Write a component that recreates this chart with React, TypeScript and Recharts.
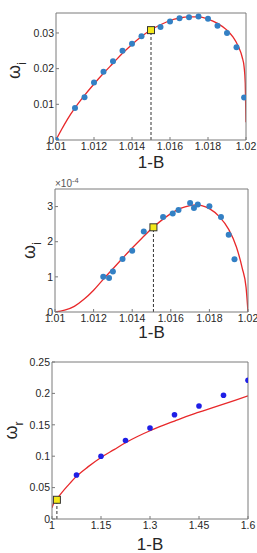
import React from 'react';
import {
  ComposedChart,
  Line,
  Scatter,
  XAxis,
  YAxis,
  ReferenceLine,
  Label,
} from 'recharts';

// --- growth rate, narrow window (fitted curve + simulation points)
const growthCurveX = [1.01, 1.0103, 1.0106, 1.011, 1.0115, 1.012, 1.0125, 1.013, 1.0135, 1.014, 1.0145, 1.015, 1.0155, 1.016, 1.0165, 1.017, 1.0175, 1.018, 1.0185, 1.019, 1.0193, 1.0196, 1.0198, 1.0199, 1.01996, 1.02];
const growthCurveY = [0, 0.003, 0.0058, 0.009, 0.0125, 0.0157, 0.0187, 0.0215, 0.0243, 0.0268, 0.029, 0.0309, 0.0323, 0.0335, 0.0342, 0.0345, 0.0345, 0.0339, 0.0327, 0.0308, 0.029, 0.0262, 0.0232, 0.0205, 0.016, 0.005];
const growthDotsX = [1.01, 1.011, 1.0115, 1.012, 1.0125, 1.013, 1.0135, 1.014, 1.0145, 1.0155, 1.016, 1.0165, 1.017, 1.0175, 1.018, 1.0185, 1.019, 1.0195, 1.0199];
const growthDotsY = [0, 0.009, 0.012, 0.0161, 0.0191, 0.0221, 0.025, 0.027, 0.0291, 0.0317, 0.0332, 0.0341, 0.0344, 0.0346, 0.034, 0.032, 0.03, 0.026, 0.0119];
const growthMark = { x: 1.015, y: 0.0308 };
const growthXTicks = [1.01, 1.012, 1.014, 1.016, 1.018, 1.02];
const growthYTicks = [0, 0.01, 0.02, 0.03];

// --- growth rate, second case (values in units of 1e-4)
const smallCurveX = [1.01, 1.0105, 1.011, 1.0115, 1.012, 1.0125, 1.013, 1.0135, 1.014, 1.0145, 1.015, 1.0155, 1.016, 1.0165, 1.017, 1.0173, 1.0176, 1.018, 1.0185, 1.019, 1.0194, 1.0197, 1.0199, 1.02];
const smallCurveY = [0, 0.05, 0.16, 0.36, 0.62, 0.93, 1.23, 1.53, 1.82, 2.1, 2.37, 2.6, 2.8, 2.95, 3.03, 3.05, 3.03, 2.94, 2.72, 2.35, 1.85, 1.25, 0.7, 0];
const smallDotsX = [1.0125, 1.0128, 1.013, 1.0135, 1.014, 1.0146, 1.0156, 1.0161, 1.0164, 1.017, 1.0172, 1.0174, 1.018, 1.0186, 1.019, 1.0193];
const smallDotsY = [1.0, 0.97, 1.15, 1.51, 1.74, 2.29, 2.7, 2.8, 2.9, 3.1, 2.96, 3.06, 3.01, 2.7, 2.2, 1.5];
const smallMark = { x: 1.0151, y: 2.41 };
const smallXTicks = [1.01, 1.012, 1.014, 1.016, 1.018, 1.02];
const smallYTicks = [0, 1, 2, 3];

// --- real frequency over the wide range
const freqCurveX = [1.0, 1.005, 1.015, 1.03, 1.05, 1.075, 1.11, 1.15, 1.19, 1.225, 1.26, 1.3, 1.34, 1.375, 1.41, 1.45, 1.49, 1.525, 1.56, 1.6];
const freqCurveY = [0.018, 0.025, 0.032, 0.042, 0.054, 0.068, 0.083, 0.098, 0.1105, 0.1215, 0.131, 0.1405, 0.149, 0.156, 0.163, 0.17, 0.177, 0.183, 0.189, 0.196];
const freqDotsX = [1.075, 1.15, 1.225, 1.3, 1.375, 1.45, 1.525, 1.6];
const freqDotsY = [0.07, 0.1, 0.125, 0.145, 0.166, 0.18, 0.197, 0.221];
const freqMark = { x: 1.015, y: 0.0306 };
const freqXTicks = [1, 1.15, 1.3, 1.45, 1.6];
const freqYTicks = [0, 0.05, 0.1, 0.15, 0.2, 0.25];

type Pt = { x: number; y: number };
const zip = (xs: number[], ys: number[]): Pt[] => xs.map((x, i) => ({ x, y: ys[i] }));

const FONT = '"Liberation Sans", Arial, sans-serif';
const AXIS = '#7a7a7a';
const TEXT = '#262626';
const RED = '#e8282a';

const tickStyle = { fontSize: 10.5, fill: TEXT, fontFamily: FONT };

const YellowSquare = (p: any) => (
  <rect x={p.cx - 3.5} y={p.cy - 3.5} width={7} height={7} fill="#f4e81a" stroke="#333" strokeWidth={1} />
);

const dotShape = (color: string, r: number) => (p: any) => (
  <circle cx={p.cx} cy={p.cy} r={r} fill={color} />
);

interface PanelProps {
  top: number;
  height: number;
  axisTop: number;
  axisBottom: number;
  axisLeft: number;
  axisRight: number;
  xDomain: [number, number];
  xTicks: number[];
  yDomain: [number, number];
  yTicks: number[];
  curve: Pt[];
  dots: Pt[];
  dotColor: string;
  dotR: number;
  mark: Pt;
  sub: string;
  labelX: number;
  labelShift: number;
  titleBaseline: number;
  exponent?: string;
}

const Panel: React.FC<PanelProps> = (p) => {
  const yTitle = ({ viewBox }: any) => {
    const cx = viewBox.x + p.labelX;
    const cy = viewBox.y + viewBox.height / 2 + p.labelShift;
    return (
      <text
        x={cx}
        y={cy}
        transform={`rotate(-90 ${cx} ${cy})`}
        textAnchor="middle"
        fill={TEXT}
        fontFamily={FONT}
        fontSize={18}
      >
        <tspan>ω</tspan>
        <tspan fontSize={12} dy={6}>{p.sub}</tspan>
      </text>
    );
  };

  const xTitle = ({ viewBox }: any) => (
    <text
      x={viewBox.x + viewBox.width / 2}
      y={viewBox.y + p.titleBaseline}
      textAnchor="middle"
      fill={TEXT}
      fontFamily={FONT}
      fontSize={17}
    >
      1-B
    </text>
  );

  const expTitle = ({ viewBox }: any) => (
    <text x={viewBox.x} y={viewBox.y + viewBox.height - 2} fill="#555" fontFamily={FONT} fontSize={10}>
      <tspan>×10</tspan>
      <tspan fontSize={7.5} dy={-4}>{p.exponent}</tspan>
    </text>
  );

  return (
    <div style={{ position: 'absolute', left: 0, top: p.top, width: 257, height: p.height }}>
      <ComposedChart width={257} height={p.height} margin={{ top: 0, right: 0, bottom: 0, left: 0 }}>
        <XAxis
          xAxisId={0}
          type="number"
          dataKey="x"
          domain={p.xDomain}
          ticks={p.xTicks}
          interval={0}
          allowDataOverflow
          height={p.axisBottom}
          stroke={AXIS}
          tickSize={-3}
          tickMargin={6}
          tick={tickStyle}
        >
          <Label content={xTitle} />
        </XAxis>
        <XAxis
          xAxisId="top"
          orientation="top"
          type="number"
          dataKey="x"
          domain={p.xDomain}
          ticks={p.xTicks}
          interval={0}
          allowDataOverflow
          height={p.axisTop}
          stroke={AXIS}
          tickSize={-3}
          tick={false}
        >
          {p.exponent ? <Label content={expTitle} /> : null}
        </XAxis>
        <YAxis
          yAxisId={0}
          type="number"
          domain={p.yDomain}
          ticks={p.yTicks}
          interval={0}
          allowDataOverflow
          width={p.axisLeft}
          stroke={AXIS}
          tickSize={-3}
          tickMargin={5}
          tick={tickStyle}
        >
          <Label content={yTitle} />
        </YAxis>
        <YAxis
          yAxisId="right"
          orientation="right"
          type="number"
          domain={p.yDomain}
          ticks={p.yTicks}
          interval={0}
          allowDataOverflow
          width={p.axisRight}
          stroke={AXIS}
          tickSize={-3}
          tick={false}
        />
        <Line
          data={p.curve}
          dataKey="y"
          type="monotone"
          stroke={RED}
          strokeWidth={1.3}
          dot={false}
          activeDot={false}
          isAnimationActive={false}
        />
        <Scatter data={p.dots} dataKey="y" shape={dotShape(p.dotColor, p.dotR)} isAnimationActive={false} />
        <ReferenceLine
          segment={[{ x: p.mark.x, y: 0 }, { x: p.mark.x, y: p.mark.y }]}
          stroke="#333"
          strokeWidth={1}
          strokeDasharray="3 2"
        />
        <Scatter data={[p.mark]} dataKey="y" shape={YellowSquare} isAnimationActive={false} />
      </ComposedChart>
    </div>
  );
};

export default function App() {
  return (
    <div style={{ position: 'absolute', left: 0, top: 0, width: 257, height: 553, background: '#fff' }}>
      <Panel
        top={0}
        height={175}
        axisTop={13}
        axisBottom={35}
        axisLeft={56}
        axisRight={11}
        xDomain={[1.01, 1.02]}
        xTicks={growthXTicks}
        yDomain={[0, 0.0356]}
        yTicks={growthYTicks}
        curve={zip(growthCurveX, growthCurveY)}
        dots={zip(growthDotsX, growthDotsY)}
        dotColor="#3380c4"
        dotR={3}
        mark={growthMark}
        sub="i"
        labelX={20}
        labelShift={-6}
        titleBaseline={28}
      />
      <Panel
        top={175}
        height={175}
        axisTop={14}
        axisBottom={38}
        axisLeft={55}
        axisRight={9}
        xDomain={[1.01, 1.02]}
        xTicks={smallXTicks}
        yDomain={[0, 3.5]}
        yTicks={smallYTicks}
        curve={zip(smallCurveX, smallCurveY)}
        dots={zip(smallDotsX, smallDotsY)}
        dotColor="#3380c4"
        dotR={3}
        mark={smallMark}
        sub="i"
        labelX={35}
        labelShift={0}
        titleBaseline={26}
        exponent="-4"
      />
      <Panel
        top={350}
        height={203}
        axisTop={12}
        axisBottom={34}
        axisLeft={52}
        axisRight={9}
        xDomain={[1, 1.6]}
        xTicks={freqXTicks}
        yDomain={[0, 0.25]}
        yTicks={freqYTicks}
        curve={zip(freqCurveX, freqCurveY)}
        dots={zip(freqDotsX, freqDotsY)}
        dotColor="#1f1fe6"
        dotR={2.8}
        mark={freqMark}
        sub="r"
        labelX={17}
        labelShift={-10}
        titleBaseline={31}
      />
    </div>
  );
}
